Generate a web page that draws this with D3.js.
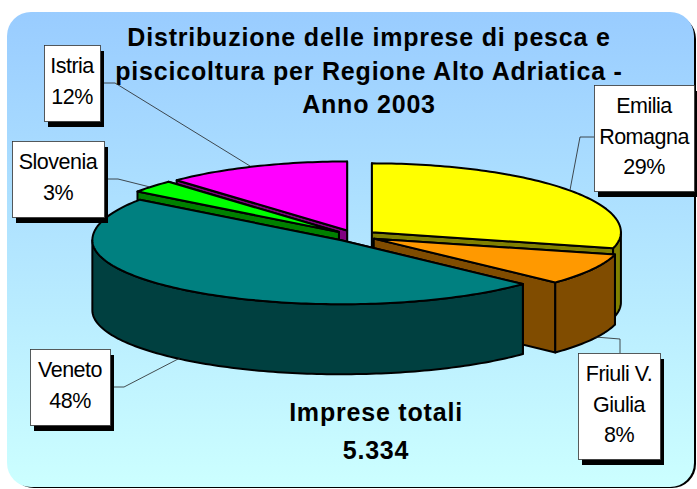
<!DOCTYPE html>
<html lang="it">
<head>
    <meta charset="UTF-8">
    <title>Distribuzione delle imprese di pesca e piscicoltura</title>
    <script src="https://d3js.org/d3.v7.min.js"></script>
    <style>
        html, body { margin: 0; padding: 0; background: #fff; }
        svg { display: block; }
        text { font-family: "Liberation Sans", Arial, sans-serif; fill: #000; }
        .title { font-size: 25px; font-weight: bold; text-anchor: middle; letter-spacing: 0.8px; }
        .label { font-size: 21.5px; text-anchor: middle; letter-spacing: -0.5px; }
    </style>
</head>
<body>
    <svg width="697" height="489"></svg>

    <script>
        // Dati
        const regions = ["Emilia Romagna", "Friuli V. Giulia", "Veneto", "Slovenia", "Istria"];
        const shares = [29, 8, 48, 3, 12];
        const titleLines = ["Distribuzione delle imprese di pesca e", "piscicoltura per Regione Alto Adriatica -", "Anno 2003"];
        const totalLines = ["Imprese totali", "5.334"];

        // Colori e layout
        const topColors = ["#ffff00", "#ff9900", "#008080", "#00ff00", "#ff00ff"];
        const sideColors = ["#808000", "#804c00", "#004040", "#008000", "#800080"];
        const drawOrder = ["Istria", "Slovenia", "Emilia Romagna", "Friuli V. Giulia", "Veneto"];

        const labelBoxes = {
            "Emilia Romagna": { x: 594, y: 85, w: 100, h: 106, lines: ["Emilia", "Romagna", "29%"], leader: [[594, 137], [580, 137], [570, 190]] },
            "Friuli V. Giulia": { x: 578, y: 353, w: 82, h: 106, lines: ["Friuli V.", "Giulia", "8%"], leader: [[620, 353], [620, 339], [595, 337]] },
            "Veneto": { x: 30, y: 349, w: 80, h: 76, lines: ["Veneto", "48%"], leader: [[110, 387], [124, 387], [180, 358]] },
            "Slovenia": { x: 12, y: 141, w: 92, h: 76, lines: ["Slovenia", "3%"], leader: [[104, 179], [118, 179], [150, 187]] },
            "Istria": { x: 44, y: 45, w: 56, h: 76, lines: ["Istria", "12%"], leader: [[100, 83], [115, 83], [250, 166]] }
        };

        const cx = 355, cy = 236;
        const rx = 249, ryBack = 69, ryFront = 64;
        const depth = 70, explode = 0.086;

        const svg = d3.select("svg");

        // Sfondo con gradiente
        const grad = svg.append("defs").append("linearGradient")
            .attr("id", "bg").attr("x1", 0).attr("y1", 0).attr("x2", 0).attr("y2", 1);
        grad.append("stop").attr("offset", "0%").attr("stop-color", "#99ccff");
        grad.append("stop").attr("offset", "100%").attr("stop-color", "#ccffff");

        svg.append("rect").attr("x", 10).attr("y", 15).attr("width", 686).attr("height", 473)
            .attr("rx", 24).attr("fill", "#000");
        svg.append("rect").attr("x", 7).attr("y", 12).attr("width", 687).attr("height", 475)
            .attr("rx", 24).attr("fill", "url(#bg)");

        // Titolo
        svg.append("g").selectAll("text").data(titleLines).enter().append("text")
            .attr("class", "title")
            .attr("x", 369)
            .attr("y", (d, i) => 46 + i * 33.5)
            .text(d => d);

        // Torta 3D: angoli da d3.pie, proiezione su ellisse
        const pie = d3.pie().sort(null).value(d => d)(shares);
        const slices = pie.map((p, i) => {
            const mid = (p.startAngle + p.endAngle) / 2;
            return {
                name: regions[i],
                start: p.startAngle,
                end: p.endAngle,
                top: topColors[i],
                side: sideColors[i],
                ox: cx + explode * rx * Math.sin(mid),
                oy: cy - explode * (Math.cos(mid) > 0 ? ryBack : ryFront) * Math.cos(mid)
            };
        });

        const project = (s, a) => {
            const c = Math.cos(a);
            return [s.ox + rx * Math.sin(a), s.oy - (c > 0 ? ryBack : ryFront) * c];
        };
        const sample = (a0, a1) => {
            const n = Math.max(2, Math.ceil((a1 - a0) / 0.02));
            return d3.range(n + 1).map(k => a0 + (a1 - a0) * k / n);
        };
        const line = d3.line();
        const down = p => [p[0], p[1] + depth];

        const pieG = svg.append("g")
            .attr("stroke", "#000").attr("stroke-width", 2).attr("stroke-linejoin", "round");

        drawOrder.forEach(name => {
            const s = slices.find(d => d.name === name);
            const apex = [s.ox, s.oy];
            const g = pieG.append("g");

            // facce radiali: prima quella piu' arretrata
            [s.start, s.end]
                .sort((a, b) => project(s, a)[1] - project(s, b)[1])
                .forEach(a => {
                    const e = project(s, a);
                    g.append("path")
                        .attr("d", line([apex, e, down(e), down(apex)]) + "Z")
                        .attr("fill", s.side);
                });

            // parete esterna, solo la parte frontale
            const a0 = Math.max(s.start, Math.PI / 2);
            const a1 = Math.min(s.end, 3 * Math.PI / 2);
            if (a1 > a0) {
                const rim = sample(a0, a1).map(a => project(s, a));
                g.append("path")
                    .attr("d", line(rim.concat(rim.slice().reverse().map(down))) + "Z")
                    .attr("fill", s.side);
            }

            // faccia superiore
            const outline = [apex].concat(sample(s.start, s.end).map(a => project(s, a)));
            g.append("path").attr("d", line(outline) + "Z").attr("fill", s.top);
        });

        // Etichette
        regions.forEach(name => {
            const b = labelBoxes[name];
            const g = svg.append("g");
            g.append("path").attr("d", line(b.leader))
                .attr("fill", "none").attr("stroke", "#222").attr("stroke-width", 0.8);
            g.append("rect").attr("x", b.x + 4).attr("y", b.y + 6).attr("width", b.w).attr("height", b.h)
                .attr("fill", "#000");
            g.append("rect").attr("x", b.x + 0.5).attr("y", b.y + 0.5).attr("width", b.w).attr("height", b.h)
                .attr("fill", "#fff").attr("stroke", "#333").attr("stroke-width", 0.8);
            g.selectAll("text").data(b.lines).enter().append("text")
                .attr("class", "label")
                .attr("x", b.x + b.w / 2)
                .attr("y", (d, i) => b.y + 28 + i * 30.5)
                .text(d => d);
        });

        // Totale
        svg.append("g").selectAll("text").data(totalLines).enter().append("text")
            .attr("class", "title")
            .attr("x", 376)
            .attr("y", (d, i) => 421 + i * 38)
            .text(d => d);
    </script>
</body>
</html>
